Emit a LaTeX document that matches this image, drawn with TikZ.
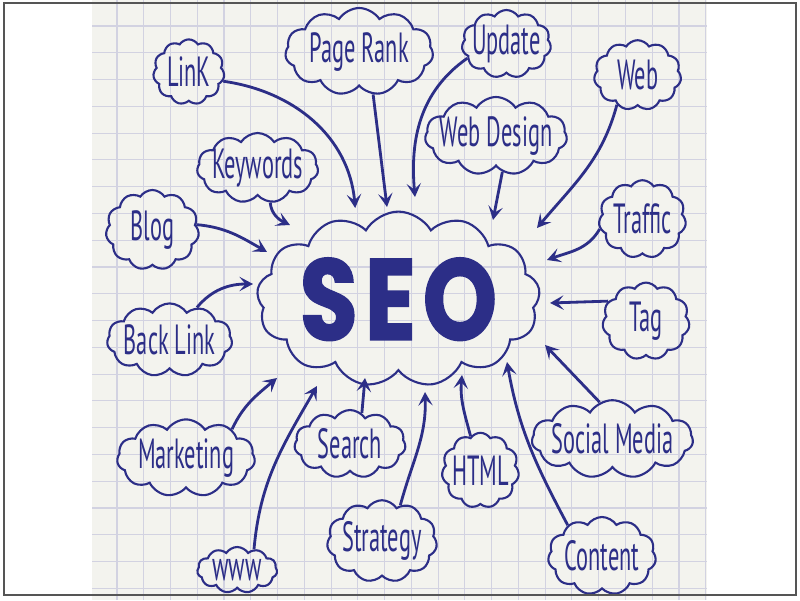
\documentclass[tikz,border=0pt]{standalone}
\usepackage{fontspec}
\usetikzlibrary{shapes.symbols,arrows.meta}
\newfontfamily\handfont{PT Sans}[FakeStretch=0.53]
\newfontfamily\seofont{Poppins}[FakeStretch=0.82,FakeBold=1.4,LetterSpace=6]
\definecolor{ink}{RGB}{44,46,135}
\definecolor{paper}{RGB}{243,243,238}
\definecolor{gridline}{RGB}{210,210,225}
\definecolor{frame}{RGB}{85,85,85}
\newcommand{\word}[1]{\makebox[0pt]{#1}}

\begin{document}
\begin{tikzpicture}[
	bubble/.style={cloud, cloud puffs=11, cloud puff arc=115, cloud ignores aspect,
		draw=ink, line width=1.5pt, inner sep=0pt, text=ink,
		font=\handfont\fontsize{30}{30}\selectfont},
	arr/.style={draw=ink, line width=2pt, -{Stealth[length=3.4mm,width=3.6mm,inset=1.5mm]}}
]
\useasboundingbox (0,0) rectangle (20,15);
\fill[paper] (2.3,0) rectangle (17.675,15);

\foreach \x in {0,...,22}
{
	\draw[gridline, line width=0.8pt] (2.925+0.669*\x,0) -- (2.925+0.669*\x,15);
}
\foreach \y in {0,...,21}
{
	\draw[gridline, line width=0.8pt] (2.3,14.35-0.6695*\y) -- (17.675,14.35-0.6695*\y);
}

\path (9.96,7.52) node[bubble, cloud puffs=13, cloud puff arc=120, minimum width=7.08cm, minimum height=4.38cm,
	font=\seofont\bfseries\fontsize{82}{82}\selectfont] (seo) {\word{SEO}};

\path (4.72,13.20) node[bubble, minimum width=1.78cm, minimum height=1.63cm] (link) {\word{LinK}};
\path (8.98,13.71) node[bubble, minimum width=3.70cm, minimum height=2.18cm] (rank) {\word{Page Rank}};
\path (12.66,13.90) node[bubble, minimum width=2.23cm, minimum height=1.70cm] (update) {\word{Update}};
\path (15.94,13.12) node[bubble, minimum width=2.18cm, minimum height=1.75cm] (web) {\word{Web}};
\path (12.40,11.60) node[bubble, minimum width=3.55cm, minimum height=1.95cm] (design) {\word{Web Design}};
\path (6.44,10.80) node[bubble, minimum width=3.03cm, minimum height=1.75cm] (keywords) {\word{Keywords}};
\path (3.81,9.25) node[bubble, minimum width=2.33cm, minimum height=2.00cm] (blog) {\word{Blog}};
\path (16.06,9.52) node[bubble, minimum width=2.18cm, minimum height=1.95cm] (traffic) {\word{Traffic}};
\path (16.15,6.97) node[bubble, minimum width=2.18cm, minimum height=1.93cm] (tag) {\word{Tag}};
\path (4.24,6.50) node[bubble, minimum width=3.13cm, minimum height=1.83cm] (backlink) {\word{Back Link}};
\path (4.65,3.55) node[bubble, minimum width=3.45cm, minimum height=1.93cm] (marketing) {\word{Marketing}};
\path (8.75,3.90) node[bubble, minimum width=2.78cm, minimum height=1.70cm] (search) {\word{Search}};
\path (5.93,0.75) node[bubble, minimum width=2.00cm, minimum height=1.15cm] (www) {\word{www}};
\path (9.55,1.47) node[bubble, minimum width=2.75cm, minimum height=2.05cm] (strategy) {\word{Strategy}};
\path (12.01,3.24) node[bubble, minimum width=1.93cm, minimum height=1.88cm] (html) {\word{HTML}};
\path (15.31,4.02) node[bubble, minimum width=4.03cm, minimum height=1.95cm] (social) {\word{Social Media}};
\path (15.05,1.10) node[bubble, minimum width=2.70cm, minimum height=1.95cm] (content) {\word{Content}};

\coordinate (tLink) at (8.88,9.80);
\coordinate (tRank) at (9.675,9.825);
\coordinate (tUpdate) at (10.375,10.075);
\coordinate (tDesign) at (12.325,9.50);
\coordinate (tWeb) at (13.425,9.30);
\coordinate (tKeywords) at (7.25,9.375);
\coordinate (tBlog) at (6.675,8.70);
\coordinate (tTraffic) at (13.675,8.50);
\coordinate (tBacklink) at (6.325,7.90);
\coordinate (tTag) at (13.75,7.425);
\coordinate (tSocial) at (13.625,6.375);
\coordinate (tMarketing) at (6.925,5.55);
\coordinate (tWww) at (7.925,5.35);
\coordinate (tSearch) at (9.125,5.55);
\coordinate (tStrategy) at (10.625,5.20);
\coordinate (tHtml) at (11.55,5.625);
\coordinate (tContent) at (12.675,5.95);

\draw [arr] (link.-15) to[out=-8,in=95] (tLink);
\draw [arr] (rank.-72) -- (tRank);
\draw [arr] (update.200) to[out=215,in=95] (tUpdate);
\draw [arr] (design.-80) -- (tDesign);
\draw [arr] (web.235) to[out=-105,in=50] (tWeb);
\draw [arr] (keywords.-70) to[out=-85,in=155] (tKeywords);
\draw [arr] (blog.7) to[out=-5,in=150] (tBlog);
\draw [arr] (traffic.193) to[out=240,in=20] (tTraffic);
\draw [arr] (backlink.50) to[out=50,in=180] (tBacklink);
\draw [arr] (tag.152) -- (tTag);
\draw [arr] (social.109) -- (tSocial);
\draw [arr] (marketing.32) to[out=65,in=220] (tMarketing);
\draw [arr] (www.51) to[out=85,in=240] (tWww);
\draw [arr] (search.69) -- (tSearch);
\draw [arr] (strategy.63) to[out=75,in=-88] (tStrategy);
\draw [arr] (html.106) to[out=105,in=-95] (tHtml);
\draw [arr] (content.138) to[out=118,in=-80] (tContent);

\draw[frame, line width=1pt] (0.1,0.125) rectangle (19.9,14.93);
\end{tikzpicture}
\end{document}
